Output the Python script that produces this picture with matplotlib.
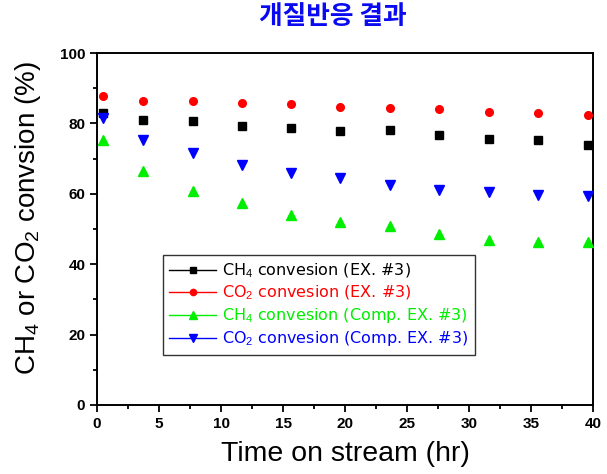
import matplotlib
matplotlib.use("Agg")
import matplotlib.pyplot as plt
from matplotlib.ticker import MultipleLocator
from matplotlib.lines import Line2D

plt.rcParams['font.family'] = ['Liberation Sans', 'DejaVu Sans']
plt.rcParams['mathtext.fontset'] = 'custom'
plt.rcParams['mathtext.rm'] = 'Liberation Sans'
plt.rcParams['mathtext.it'] = 'Liberation Sans'

time_hr = [0.5, 3.7, 7.7, 11.7, 15.6, 19.6, 23.6, 27.6, 31.6, 35.6, 39.6]
ch4_ex3 = [82.9, 80.9, 80.6, 79.2, 78.7, 77.9, 78.1, 76.8, 75.7, 75.2, 74.0]
co2_ex3 = [87.7, 86.4, 86.4, 85.9, 85.6, 84.8, 84.5, 84.0, 83.2, 83.0, 82.4]
ch4_comp = [75.4, 66.4, 60.9, 57.3, 53.9, 52.1, 50.8, 48.6, 46.9, 46.4, 46.4]
co2_comp = [81.6, 75.4, 71.6, 68.3, 65.9, 64.6, 62.6, 61.2, 60.4, 59.6, 59.4]

labels = [r'CH$_4$ convesion (EX. #3)',
          r'CO$_2$ convesion (EX. #3)',
          r'CH$_4$ convesion (Comp. EX. #3)',
          r'CO$_2$ convesion (Comp. EX. #3)']
colors = ['#000000', '#ff0000', '#00ee00', '#0000ff']
markers = ['s', 'o', '^', 'v']
sizes = [5.5, 5.5, 7, 7]
series = [ch4_ex3, co2_ex3, ch4_comp, co2_comp]

fig = plt.figure(figsize=(6.07, 4.74), dpi=100)
ax = fig.add_axes([0.160, 0.1456, 0.817, 0.7424])

for y, c, m, s, lab in zip(series, colors, markers, sizes, labels):
    ax.plot(time_hr, y, linestyle='none', marker=m, color=c, markersize=s,
            label=lab, clip_on=False, zorder=3)

ax.set_xlim(0, 40)
ax.set_ylim(0, 100)
ax.xaxis.set_major_locator(MultipleLocator(5))
ax.xaxis.set_minor_locator(MultipleLocator(2.5))
ax.yaxis.set_major_locator(MultipleLocator(20))
ax.yaxis.set_minor_locator(MultipleLocator(10))
ax.tick_params(which='both', direction='out', width=1.3, top=False, right=False)
ax.tick_params(which='major', length=5, labelsize=11)
ax.tick_params(which='minor', length=3)
for lbl in ax.get_xticklabels() + ax.get_yticklabels():
    lbl.set_fontweight('bold')
for sp in ax.spines.values():
    sp.set_linewidth(1.4)

ax.set_xlabel('Time on stream (hr)', fontsize=20.5, labelpad=7)
ax.set_ylabel(r'CH$_4$ or CO$_2$ convsion (%)', fontsize=20)
ax.yaxis.set_label_coords(-0.11, 0.53)

fig.text(0.548, 0.966, '개질반응 결과', ha='center', va='center', fontsize=18.5,
         fontweight='bold', color='#0a0af0',
         family=['Noto Sans CJK KR', 'DejaVu Sans'])

handles = [Line2D([0], [0], color=c, marker=m, markersize=s - 1, linewidth=1)
           for c, m, s in zip(colors, markers, sizes)]
leg = ax.legend(handles, labels, loc='upper left', bbox_to_anchor=(0.133, 0.426),
                prop={'family': 'DejaVu Sans', 'size': 11.5},
                frameon=True, fancybox=False, edgecolor='black',
                handlelength=2.9, handletextpad=0.4, labelspacing=0.25,
                borderpad=0.4, borderaxespad=0)
leg.get_frame().set_linewidth(1.0)
for t, c in zip(leg.get_texts(), colors):
    t.set_color(c)

fig.savefig('out.png', dpi=100)
